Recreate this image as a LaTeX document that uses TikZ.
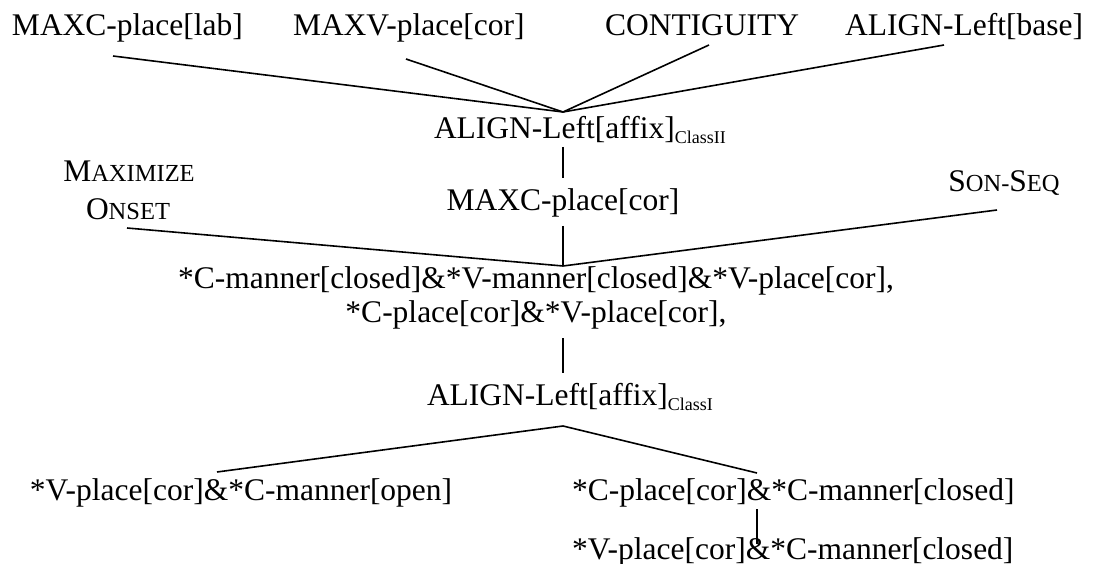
\documentclass[tikz,border=0pt]{standalone}
\usepackage{fontspec}
\setmainfont{Liberation Serif}
\newcommand\fsc[1]{{\fontsize{24.5}{28}\selectfont #1}}
\newcommand\subtxt[1]{\raisebox{-5pt}{\fontsize{18}{20}\selectfont #1}}
\begin{document}
\begin{tikzpicture}[x=1pt,y=-1pt,
  lbl/.style={inner sep=0pt,outer sep=0pt,font=\fontsize{31.5}{34}\selectfont},
  link/.style={line width=1.6pt}]
\useasboundingbox (0,0) rectangle (1093,564);
% top row
\node[lbl,anchor=base west] (maxc) at (12,36) {MAXC-place[lab]};
\node[lbl,anchor=base west] (maxv) at (293,36) {MAXV-place[cor]};
\node[lbl,anchor=base west] (contig) at (605,36) {CONTIGUITY};
\node[lbl,anchor=base east] (alb) at (1083,36) {ALIGN-Left[base]};
% second level
\node[lbl,anchor=base west] (al2) at (434,139) {ALIGN-Left[affix]\subtxt{ClassII}};
\node[lbl,anchor=base] (maxcc) at (563,211) {MAXC-place[cor]};
\node[lbl,anchor=base] (mo1) at (129,182) {M\fsc{AXIMIZE}};
\node[lbl,anchor=base] (mo2) at (128,220) {O\fsc{NSET}};
\node[lbl,anchor=base] (son) at (1004,192) {S\fsc{ON-}S\fsc{EQ}};
% conjunctions
\node[lbl,anchor=base] (c1) at (536,289) {*C-manner[closed]\&*V-manner[closed]\&*V-place[cor],};
\node[lbl,anchor=base] (c2) at (536,323) {*C-place[cor]\&*V-place[cor],};
\node[lbl,anchor=base west] (al1) at (427,405) {ALIGN-Left[affix]\subtxt{ClassI}};
% bottom
\node[lbl,anchor=base west] (b1) at (30,500) {*V-place[cor]\&*C-manner[open]};
\node[lbl,anchor=base west] (b2) at (572,500) {*C-place[cor]\&*C-manner[closed]};
\node[lbl,anchor=base west] (b3) at (572,559) {*V-place[cor]\&*C-manner[closed]};
% connector end points
\coordinate (p1) at (113,56);
\coordinate (p2) at (406,59);
\coordinate (p3) at (709,45);
\coordinate (p4) at (944,45);
\coordinate (j1) at (563,112);
\coordinate (v1a) at (563,147);
\coordinate (v1b) at (563,178);
\coordinate (v2a) at (563,226);
\coordinate (j2) at (563,266);
\coordinate (p5) at (127,228);
\coordinate (p6) at (997,210);
\coordinate (v3a) at (563,338);
\coordinate (v3b) at (563,373);
\coordinate (j4) at (563,426);
\coordinate (p7) at (217,472);
\coordinate (p8) at (757,473);
\coordinate (v4a) at (757,509);
\coordinate (v4b) at (757,544);
% connectors
\draw[link] (p1) -- (j1);
\draw[link] (p2) -- (j1);
\draw[link] (p3) -- (j1);
\draw[link] (p4) -- (j1);
\draw[link] (v1a) -- (v1b);
\draw[link] (v2a) -- (j2);
\draw[link] (p5) -- (j2);
\draw[link] (p6) -- (j2);
\draw[link] (v3a) -- (v3b);
\draw[link] (j4) -- (p7);
\draw[link] (j4) -- (p8);
\draw[link] (v4a) -- (v4b);
\end{tikzpicture}
\end{document}
